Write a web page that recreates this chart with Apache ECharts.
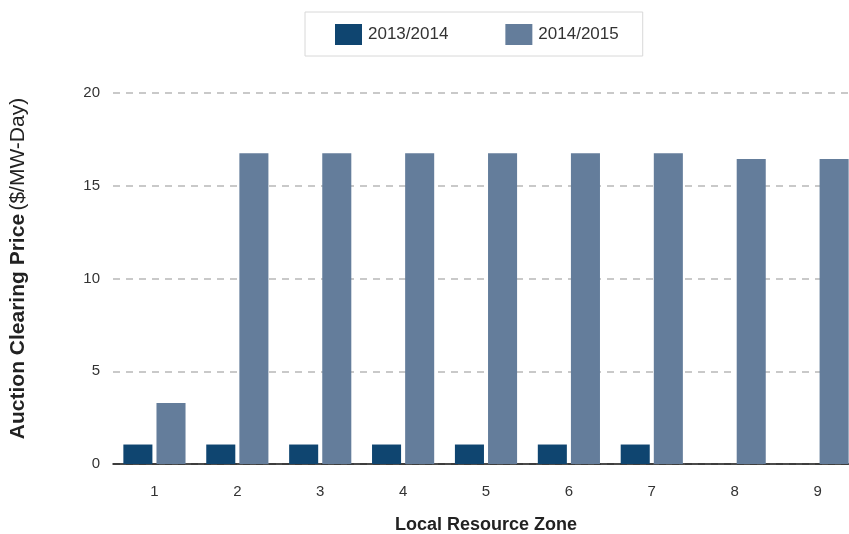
<!DOCTYPE html>
<html>
<head>
<meta charset="utf-8">
<script src="https://cdn.jsdelivr.net/npm/echarts@6/dist/echarts.min.js"></script>
<style>
  html, body { margin: 0; padding: 0; background: #fff; }
  #chart { width: 849px; height: 534px; }
</style>
</head>
<body>
<div id="chart"></div>
<script>
// zones on the x axis
var zones = ['1', '2', '3', '4', '5', '6', '7', '8', '9']
var seriesNames = ['2013/2014', '2014/2015']
// clearing price, $/MW-Day
var price2013 = [1.05, 1.05, 1.05, 1.05, 1.05, 1.05, 1.05, 0, 0]
var price2014 = [3.29, 16.75, 16.75, 16.75, 16.75, 16.75, 16.75, 16.44, 16.44]
var yTicks = [0, 5, 10, 15, 20]

var chart = echarts.init(document.getElementById('chart'))
var option = {
  animation: false,
  textStyle: { fontFamily: 'Liberation Sans, Arial, sans-serif' },
  legend: {
    data: seriesNames,
    top: 12,
    left: 305,
    padding: [12, 24, 11, 30],
    itemGap: 57,
    itemWidth: 27,
    itemHeight: 21,
    icon: 'rect',
    borderColor: '#d8d8d8',
    borderWidth: 1,
    textStyle: { fontSize: 17, color: '#333', padding: [0, 0, 0, 1] }
  },
  grid: {
    left: 113,
    right: -10,
    top: 93,
    bottom: 70,
    outerBoundsMode: 'none'
  },
  xAxis: {
    type: 'category',
    data: zones,
    name: 'Local Resource Zone',
    nameLocation: 'middle',
    nameGap: 52,
    nameTextStyle: { fontSize: 18, fontWeight: 'bold', color: '#222' },
    axisLine: { lineStyle: { color: '#111', width: 1.5 } },
    axisTick: { show: false },
    axisLabel: { fontSize: 15, color: '#333', margin: 20 }
  },
  yAxis: {
    type: 'value',
    min: yTicks[0],
    max: yTicks[yTicks.length - 1],
    interval: 5,
    name: '{b|Auction Clearing Price} {n|($/MW-Day)}',
    nameLocation: 'middle',
    nameGap: 84,
    nameTextStyle: {
      padding: [0, 0, 0, 20],
      rich: {
        b: { fontSize: 21, fontWeight: 'bold', color: '#222' },
        n: { fontSize: 21, color: '#222' }
      }
    },
    axisLine: { show: false },
    axisTick: { show: false },
    axisLabel: { fontSize: 15, color: '#333', margin: 13 },
    splitLine: { lineStyle: { color: '#b8b8b8', type: [7, 6], width: 1.5 } }
  },
  series: [
    {
      name: seriesNames[0],
      type: 'bar',
      data: price2013,
      itemStyle: { color: '#0f4570' },
      barGap: '14%',
      barCategoryGap: '25%'
    },
    {
      name: seriesNames[1],
      type: 'bar',
      data: price2014,
      itemStyle: { color: '#647d9b' }
    }
  ]
}
chart.setOption(option)
</script>
</body>
</html>
